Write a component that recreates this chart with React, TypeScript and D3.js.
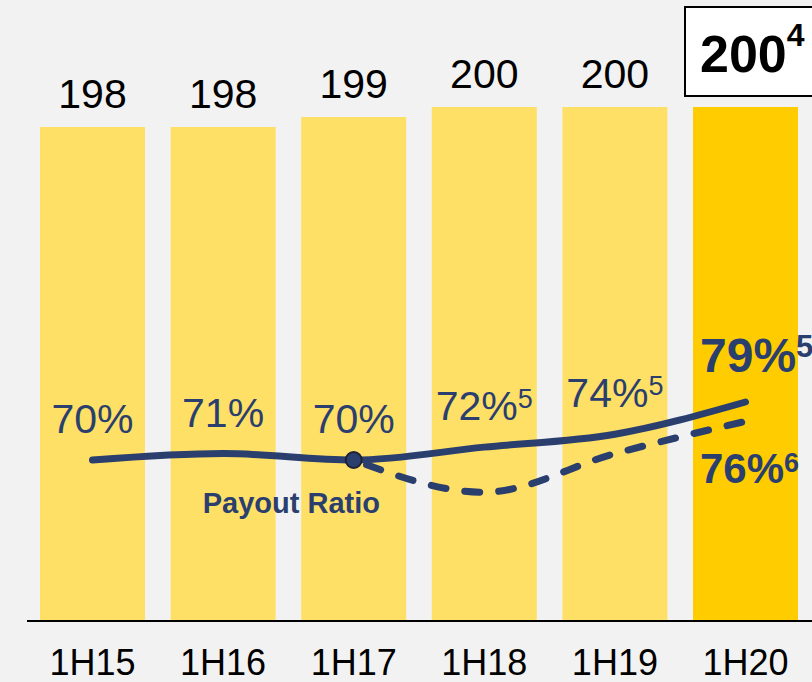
import { useRef, useEffect } from "react";
import * as d3 from "d3";

const periods = ["1H15", "1H16", "1H17", "1H18", "1H19", "1H20"];
const dividends = [198, 198, 199, 200, 200, 200];
const payoutRatio = [70, 71, 70, 72, 74, 79];
const payoutNotes = ["", "", "", "5", "5", "5"];
// alternate payout ratio (dashed), from 1H17 onwards
const altPeriods = ["1H17", "1H18", "1H19", "1H20"];
const altRatio = [70, 65, 71, 76];
const altNote = "6";
const latestNote = "4";

const width = 812;
const height = 682;
const navy = "#2b3f6e";
const font = "'Liberation Sans', Arial, sans-serif";

export default function App() {
  const svgRef = useRef<SVGSVGElement>(null);

  useEffect(() => {
    if (!svgRef.current) return;
    const svg = d3.select(svgRef.current);
    svg.selectAll("*").remove();

    svg.append("rect").attr("width", width).attr("height", height).attr("fill", "#f2f2f2");

    // Scales
    const x = d3.scaleBand<string>()
      .domain(periods)
      .range([27.2, 810.8])
      .paddingInner(0.196)
      .paddingOuter(0.098);
    const cx = (p: string) => (x(p) as number) + x.bandwidth() / 2;

    const yBar = d3.scaleLinear().domain([148.6, 200]).range([621, 107]);
    const yPct = d3.scaleLinear().domain([70, 79]).range([460, 402]);
    const last = periods.length - 1;

    // Bars
    svg.append("g")
      .selectAll("rect")
      .data(dividends)
      .join("rect")
      .attr("x", (_, i) => x(periods[i]) as number)
      .attr("width", x.bandwidth())
      .attr("y", d => yBar(d))
      .attr("height", d => yBar.range()[0] - yBar(d))
      .attr("fill", (_, i) => (i === last ? "#ffcc00" : "#ffe066"));

    // Axis line
    svg.append("line")
      .attr("x1", 27).attr("x2", width)
      .attr("y1", 621).attr("y2", 621)
      .attr("stroke", "#000").attr("stroke-width", 2);

    // Category labels
    svg.append("g")
      .selectAll("text")
      .data(periods)
      .join("text")
      .attr("x", d => cx(d))
      .attr("y", 675)
      .attr("text-anchor", "middle")
      .attr("font-family", font)
      .attr("font-size", "36px")
      .attr("fill", "#000")
      .text(d => d);

    // Bar value labels (last one boxed)
    svg.append("g")
      .selectAll("text")
      .data(dividends.slice(0, last))
      .join("text")
      .attr("x", (_, i) => cx(periods[i]))
      .attr("y", d => yBar(d) - 19)
      .attr("text-anchor", "middle")
      .attr("font-family", font)
      .attr("font-size", "41px")
      .attr("fill", "#000")
      .text(d => d);

    const bx = (x(periods[last]) as number) - 8;
    const bBottom = yBar(dividends[last]) - 11;
    svg.append("rect")
      .attr("x", bx).attr("y", bBottom - 89)
      .attr("width", width - bx + 10).attr("height", 89)
      .attr("fill", "#fff").attr("stroke", "#000").attr("stroke-width", 2);
    const boxText = svg.append("text")
      .attr("x", bx + 15)
      .attr("y", bBottom - 24)
      .attr("font-family", font)
      .attr("font-weight", "bold")
      .attr("font-size", "52px")
      .attr("fill", "#000");
    boxText.append("tspan").text(dividends[last]);
    boxText.append("tspan").attr("font-size", "32px").attr("dy", -26).text(latestNote);

    // Payout ratio lines
    const line = d3.line<[string, number]>()
      .x(d => cx(d[0]))
      .y(d => yPct(d[1]))
      .curve(d3.curveMonotoneX);

    const dashed = svg.append("path")
      .datum(altPeriods.map((p, i) => [p, altRatio[i]] as [string, number]))
      .attr("fill", "none")
      .attr("stroke", navy)
      .attr("stroke-width", 7)
      .attr("stroke-linecap", "round")
      .attr("stroke-dasharray", "15,19")
      .attr("d", line);
    // line the dash pattern up so a dash finishes at the end of the path
    const len = (dashed.node() as SVGPathElement).getTotalLength();
    dashed.attr("stroke-dashoffset", (((15 - len) % 34) + 34) % 34 + 4);

    svg.append("path")
      .datum(periods.map((p, i) => [p, payoutRatio[i]] as [string, number]))
      .attr("fill", "none")
      .attr("stroke", navy)
      .attr("stroke-width", 7)
      .attr("stroke-linecap", "round")
      .attr("d", line);

    svg.append("circle")
      .attr("cx", cx(altPeriods[0]))
      .attr("cy", yPct(altRatio[0]))
      .attr("r", 8)
      .attr("fill", navy)
      .attr("stroke", "#1c2233")
      .attr("stroke-width", 2);

    // Percent labels
    payoutRatio.slice(0, last).forEach((v, i) => {
      const t = svg.append("text")
        .attr("x", cx(periods[i]))
        .attr("y", yPct(v) - 27)
        .attr("text-anchor", "middle")
        .attr("font-family", font)
        .attr("font-size", "41px")
        .attr("fill", navy);
      t.append("tspan").text(`${v}%`);
      if (payoutNotes[i]) {
        t.append("tspan").attr("font-size", "27px").attr("dy", -12).text(payoutNotes[i]);
      }
    });

    const lx = (x(periods[last]) as number) + 7;
    const t79 = svg.append("text")
      .attr("x", lx)
      .attr("y", yPct(payoutRatio[last]) - 30)
      .attr("font-family", font)
      .attr("font-weight", "bold")
      .attr("font-size", "48px")
      .attr("fill", navy);
    t79.append("tspan").text(`${payoutRatio[last]}%`);
    t79.append("tspan").attr("font-size", "31px").attr("dy", -15).text(payoutNotes[last]);

    const altLast = altRatio[altRatio.length - 1];
    const t76 = svg.append("text")
      .attr("x", lx)
      .attr("y", yPct(altLast) + 62)
      .attr("font-family", font)
      .attr("font-weight", "bold")
      .attr("font-size", "42px")
      .attr("fill", navy);
    t76.append("tspan").text(`${altLast}%`);
    t76.append("tspan").attr("font-size", "27px").attr("dy", -11).text(altNote);

    svg.append("text")
      .attr("x", (cx(periods[1]) + cx(periods[2])) / 2 + 3)
      .attr("y", yPct(70) + 53)
      .attr("text-anchor", "middle")
      .attr("font-family", font)
      .attr("font-weight", "bold")
      .attr("font-size", "29px")
      .attr("fill", navy)
      .text("Payout Ratio");
  }, []);

  return (
    <svg
      ref={svgRef}
      width={width}
      height={height}
      viewBox={`0 0 ${width} ${height}`}
      style={{ position: "absolute", left: 0, top: 0, display: "block" }}
    />
  );
}
